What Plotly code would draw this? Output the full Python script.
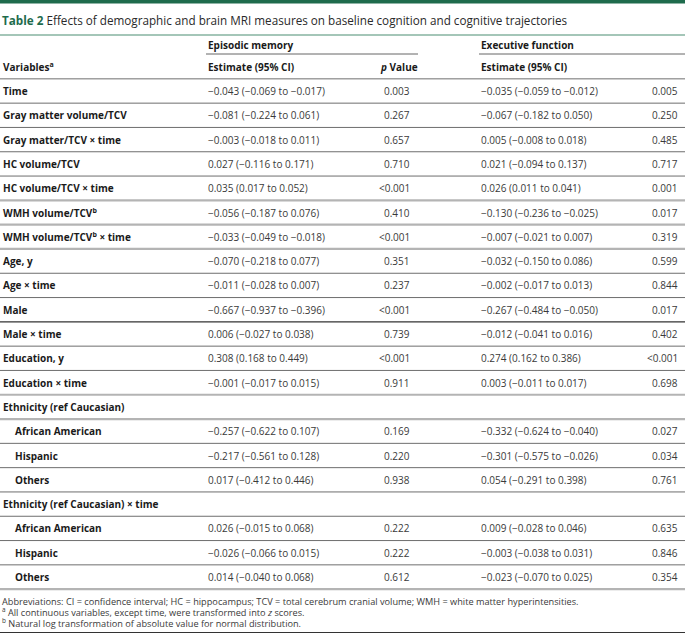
import plotly.graph_objects as go

# ---------------- data ----------------
variables = [
    "Time", "Gray matter volume/TCV", "Gray matter/TCV × time", "HC volume/TCV",
    "HC volume/TCV × time", "WMH volume/TCV<sup>b</sup>", "WMH volume/TCV<sup>b</sup> × time",
    "Age, y", "Age × time", "Male", "Male × time", "Education, y", "Education × time",
    "Ethnicity (ref Caucasian)", "African American", "Hispanic", "Others",
    "Ethnicity (ref Caucasian) × time", "African American", "Hispanic", "Others",
]
indented = [False] * 14 + [True, True, True] + [False] + [True, True, True]

em_estimate = [
    "−0.043 (−0.069 to −0.017)", "−0.081 (−0.224 to 0.061)", "−0.003 (−0.018 to 0.011)",
    "0.027 (−0.116 to 0.171)", "0.035 (0.017 to 0.052)", "−0.056 (−0.187 to 0.076)",
    "−0.033 (−0.049 to −0.018)", "−0.070 (−0.218 to 0.077)", "−0.011 (−0.028 to 0.007)",
    "−0.667 (−0.937 to −0.396)", "0.006 (−0.027 to 0.038)", "0.308 (0.168 to 0.449)",
    "−0.001 (−0.017 to 0.015)", "", "−0.257 (−0.622 to 0.107)", "−0.217 (−0.561 to 0.128)",
    "0.017 (−0.412 to 0.446)", "", "0.026 (−0.015 to 0.068)", "−0.026 (−0.066 to 0.015)",
    "0.014 (−0.040 to 0.068)",
]
em_p = [
    "0.003", "0.267", "0.657", "0.710", "<0.001", "0.410", "<0.001", "0.351", "0.237",
    "<0.001", "0.739", "<0.001", "0.911", "", "0.169", "0.220", "0.938", "", "0.222",
    "0.222", "0.612",
]
ef_estimate = [
    "−0.035 (−0.059 to −0.012)", "−0.067 (−0.182 to 0.050)", "0.005 (−0.008 to 0.018)",
    "0.021 (−0.094 to 0.137)", "0.026 (0.011 to 0.041)", "−0.130 (−0.236 to −0.025)",
    "−0.007 (−0.021 to 0.007)", "−0.032 (−0.150 to 0.086)", "−0.002 (−0.017 to 0.013)",
    "−0.267 (−0.484 to −0.050)", "−0.012 (−0.041 to 0.016)", "0.274 (0.162 to 0.386)",
    "0.003 (−0.011 to 0.017)", "", "−0.332 (−0.624 to −0.040)", "−0.301 (−0.575 to −0.026)",
    "0.054 (−0.291 to 0.398)", "", "0.009 (−0.028 to 0.046)", "−0.003 (−0.038 to 0.031)",
    "−0.023 (−0.070 to 0.025)",
]
ef_p = [
    "0.005", "0.250", "0.485", "0.717", "0.001", "0.017", "0.319", "0.599", "0.844",
    "0.017", "0.402", "<0.001", "0.698", "", "0.027", "0.034", "0.761", "", "0.635",
    "0.846", "0.354",
]
group_headers = ["Episodic memory", "Executive function"]
col_headers = ["Variables<sup>a</sup>", "Estimate (95% CI)", "<i>p</i> Value"]
title_label = "Table 2"
title_text = "Effects of demographic and brain MRI measures on baseline cognition and cognitive trajectories"
footnotes = [
    "Abbreviations: CI = confidence interval; HC = hippocampus; TCV = total cerebrum cranial volume; WMH = white matter hyperintensities.",
    "<sup>a</sup> All continuous variables, except time, were transformed into <i>z</i> scores.",
    "<sup>b</sup> Natural log transformation of absolute value for normal distribution.",
]
# separator style below each row (header row first): 'd' dark thin, 'l' light thick, 'k' black
sep_style = ["d", "d", "d", "d", "d", "l", "l", "l", "d", "d", "k", "d", "d", "l", "l",
             "d", "d", "d", "d", "d", "d", "l"]

# ---------------- layout constants ----------------
W, H = 685, 634
ROW_PX = 24.3
FIRST_ROW_PX = 91.0
FONT = "Open Sans"
FS = 10
LABEL_COLOR = "#1a1a1a"
VALUE_COLOR = "#3a3a3a"
GREEN = "#1e6b4c"

x_label, x_indent = 1, 13
x_em_est, x_em_p = 206, 412
x_ef_est, x_ef_p = 479, 680

y_top = -FIRST_ROW_PX / ROW_PX
y_bot = y_top + H / ROW_PX

fig = go.Figure()
# invisible trace to establish axes
fig.add_trace(go.Scatter(x=[0, W], y=[0, 0], mode="markers",
                         marker=dict(opacity=0), hoverinfo="skip", showlegend=False))

ann = []
def cell(x, y, text, anchor="left", bold=False, color=VALUE_COLOR, size=FS):
    if bold:
        text = f"<b>{text}</b>"
    ann.append(dict(x=x, y=y, xref="x", yref="y", text=text, showarrow=False,
                    xanchor=anchor, yanchor="middle",
                    font=dict(family=FONT, size=size, color=color)))

for i, v in enumerate(variables):
    cell(x_indent if indented[i] else x_label, i, v, bold=True, color=LABEL_COLOR)
    if em_estimate[i]:
        cell(x_em_est, i, em_estimate[i])
        cell(x_em_p, i, em_p[i].replace("<", "&lt;"), anchor="right")
        cell(x_ef_est, i, ef_estimate[i])
        cell(x_ef_p, i, ef_p[i].replace("<", "&lt;"), anchor="right")

# header rows
y_h2 = -1.0
y_h1 = -1.9
cell(x_label, y_h2, col_headers[0], bold=True, color=LABEL_COLOR)
cell(x_em_est, y_h2, col_headers[1], bold=True, color=LABEL_COLOR)
cell(x_em_p - 13, y_h2, col_headers[2], anchor="center", bold=True, color=LABEL_COLOR)
cell(x_ef_est, y_h2, col_headers[1], bold=True, color=LABEL_COLOR)
cell(W + 1, y_h2, col_headers[2], anchor="right", bold=True, color=LABEL_COLOR)
cell(x_em_est, y_h1, group_headers[0], bold=True, color=LABEL_COLOR)
cell(x_ef_est, y_h1, group_headers[1], bold=True, color=LABEL_COLOR)

# title
ann.append(dict(x=0, y=(20 - FIRST_ROW_PX) / ROW_PX, xref="x", yref="y", showarrow=False,
                xanchor="left", yanchor="middle",
                text=f"<span style='color:{GREEN}'><b>{title_label}</b></span> {title_text}",
                font=dict(family=FONT, size=11.7, color="#2a2a2a")))
# footnotes
for k, fn in enumerate(footnotes):
    ann.append(dict(x=0, y=(601 + 11 * k - FIRST_ROW_PX) / ROW_PX, xref="x", yref="y",
                    showarrow=False, xanchor="left", yanchor="middle", text=fn,
                    font=dict(family=FONT, size=9.2, color="#3a3a3a")))

shapes = []
# top green band
shapes.append(dict(type="rect", xref="paper", yref="paper", x0=0, x1=1,
                   y0=1 - 3.5 / H, y1=1, fillcolor=GREEN, line=dict(width=0)))
# line under title
shapes.append(dict(type="line", xref="paper", yref="y", x0=0, x1=1,
                   y0=(35 - FIRST_ROW_PX) / ROW_PX, y1=(35 - FIRST_ROW_PX) / ROW_PX,
                   line=dict(color="#86b3a0", width=1.5)))
# group header underlines
y_ul = (54 - FIRST_ROW_PX) / ROW_PX
shapes.append(dict(type="line", xref="x", yref="y", x0=x_em_est, x1=418, y0=y_ul, y1=y_ul,
                   line=dict(color="#666666", width=1)))
shapes.append(dict(type="line", xref="x", yref="y", x0=x_ef_est, x1=W, y0=y_ul, y1=y_ul,
                   line=dict(color="#666666", width=1)))
# row separators
style_map = {"d": ("#6e6e6e", 1), "l": ("#b4b4b4", 2.2), "k": ("#333333", 1.2)}
for k, st in enumerate(sep_style):
    yy = (k - 1) + 0.5
    c, w = style_map[st]
    shapes.append(dict(type="line", xref="paper", yref="y", x0=0, x1=1, y0=yy, y1=yy,
                       line=dict(color=c, width=w)))
# bottom line
y_b = (632.5 - FIRST_ROW_PX) / ROW_PX
shapes.append(dict(type="line", xref="paper", yref="y", x0=0, x1=1, y0=y_b, y1=y_b,
                   line=dict(color="#333333", width=1.2)))

fig.update_layout(
    width=W, height=H, margin=dict(l=0, r=0, t=0, b=0),
    paper_bgcolor="white", plot_bgcolor="white",
    xaxis=dict(range=[0, W], visible=False, fixedrange=True),
    yaxis=dict(range=[y_bot, y_top], visible=False, fixedrange=True),
    annotations=ann, shapes=shapes, showlegend=False,
)
fig.write_html(
    "out.html",
    config={"displayModeBar": False},
    post_script="document.body.style.margin='0';document.body.style.padding='0';"
                "document.body.style.overflow='hidden';",
)
